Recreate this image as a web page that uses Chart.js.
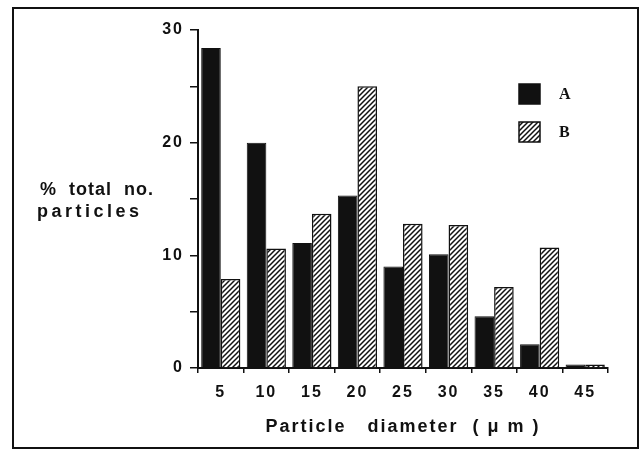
<!DOCTYPE html>
<html>
<head>
<meta charset="utf-8">
<script src="https://cdn.jsdelivr.net/npm/chart.js@4.4.0/dist/chart.umd.min.js"></script>
<style>
  body { margin: 0; background: #fff; }
  #wrap { position: relative; width: 644px; height: 453px; }
  #frame {
    position: absolute; left: 12px; top: 7px; width: 627px; height: 442px;
    border: 2px solid #111; box-sizing: border-box; pointer-events: none;
  }
</style>
</head>
<body>
<div id="wrap">
  <canvas id="chart" width="644" height="453"></canvas>
  <div id="frame"></div>
</div>
<script>
const diameters = ["5", "10", "15", "20", "25", "30", "35", "40", "45"];
const seriesA = [28.4, 20.0, 11.1, 15.3, 9.0, 10.1, 4.6, 2.1, 0.3];
const seriesB = [7.9, 10.6, 13.7, 25.0, 12.8, 12.7, 7.2, 10.7, 0.3];
const seriesNames = ["A", "B"];
const yMax = 30;
const yStep = 5;

const ink = "#111";
const chartCanvas = document.getElementById("chart");

// diagonal "////" hatch for series B
function makeHatch() {
  const size = 5;
  const c = document.createElement("canvas");
  c.width = size;
  c.height = size;
  const g = c.getContext("2d");
  g.fillStyle = "#fff";
  g.fillRect(0, 0, size, size);
  g.strokeStyle = ink;
  g.lineWidth = 1.5;
  g.beginPath();
  g.moveTo(-1, size + 1); g.lineTo(size + 1, -1);
  g.moveTo(-1, 1); g.lineTo(1, -1);
  g.moveTo(size - 1, size + 1); g.lineTo(size + 1, size - 1);
  g.stroke();
  return g.createPattern(c, "repeat");
}
const hatch = makeHatch();

// y title (horizontal) + legend inside the plot
const extras = {
  id: "extras",
  beforeDraw(chart) {
    chart.ctx.letterSpacing = "2px";
  },
  afterDraw(chart) {
    const ctx = chart.ctx;
    const area = chart.chartArea;
    ctx.save();
    ctx.fillStyle = ink;
    ctx.textBaseline = "middle";
    ctx.textAlign = "left";
    ctx.font = "bold 18px 'Liberation Sans'";
    ctx.letterSpacing = "1px";
    ctx.fillText("%  total  no.", 40, 190);
    ctx.letterSpacing = "3.5px";
    ctx.fillText("particles", 37, 212);

    const lx = area.right - 89;
    const ly = area.top + 54;
    const fills = [ink, hatch];
    ctx.letterSpacing = "0px";
    ctx.font = "bold 16px 'Liberation Serif'";
    seriesNames.forEach((name, i) => {
      const y = ly + i * 38;
      ctx.fillStyle = fills[i];
      ctx.fillRect(lx, y, 21, 20);
      ctx.strokeStyle = ink;
      ctx.lineWidth = 1.5;
      ctx.strokeRect(lx, y, 21, 20);
      ctx.fillStyle = ink;
      ctx.fillText(name, lx + 40, y + 11);
    });
    ctx.restore();
  },
};

new Chart(chartCanvas, {
  type: "bar",
  data: {
    labels: diameters,
    datasets: [
      {
        label: seriesNames[0],
        data: seriesA,
        backgroundColor: ink,
        borderColor: ink,
        borderWidth: 1,
        categoryPercentage: 0.86,
        barPercentage: 1.0,
      },
      {
        label: seriesNames[1],
        data: seriesB,
        backgroundColor: hatch,
        borderColor: ink,
        borderWidth: 1.5,
        categoryPercentage: 0.86,
        barPercentage: 1.0,
      },
    ],
  },
  options: {
    responsive: false,
    animation: false,
    layout: { padding: { left: 0, right: 36, top: 30, bottom: 0 } },
    plugins: {
      legend: { display: false },
      tooltip: { enabled: false },
    },
    scales: {
      x: {
        afterFit: (s) => { s.height = 85; },
        border: { color: ink, width: 2 },
        grid: { drawOnChartArea: false, color: ink, lineWidth: 1.5, tickLength: 5 },
        ticks: {
          color: ink,
          padding: 10,
          maxRotation: 0,
          autoSkip: false,
          font: { family: "'Liberation Sans'", size: 16, weight: "bold" },
        },
        title: {
          display: true,
          text: "Particle   diameter  ( μ m )",
          color: ink,
          padding: { top: 0, bottom: 15 },
          font: { family: "'Liberation Sans'", size: 18, weight: "bold" },
        },
      },
      y: {
        min: 0,
        max: yMax,
        afterFit: (s) => { s.width = 198; },
        border: { color: ink, width: 2 },
        grid: { drawOnChartArea: false, color: ink, lineWidth: 1.5, tickLength: 8 },
        ticks: {
          stepSize: yStep,
          color: ink,
          padding: 6,
          font: { family: "'Liberation Sans'", size: 16, weight: "bold" },
          callback: (v) => (v % 10 === 0 ? v : ""),
        },
      },
    },
  },
  plugins: [extras],
});
</script>
</body>
</html>
